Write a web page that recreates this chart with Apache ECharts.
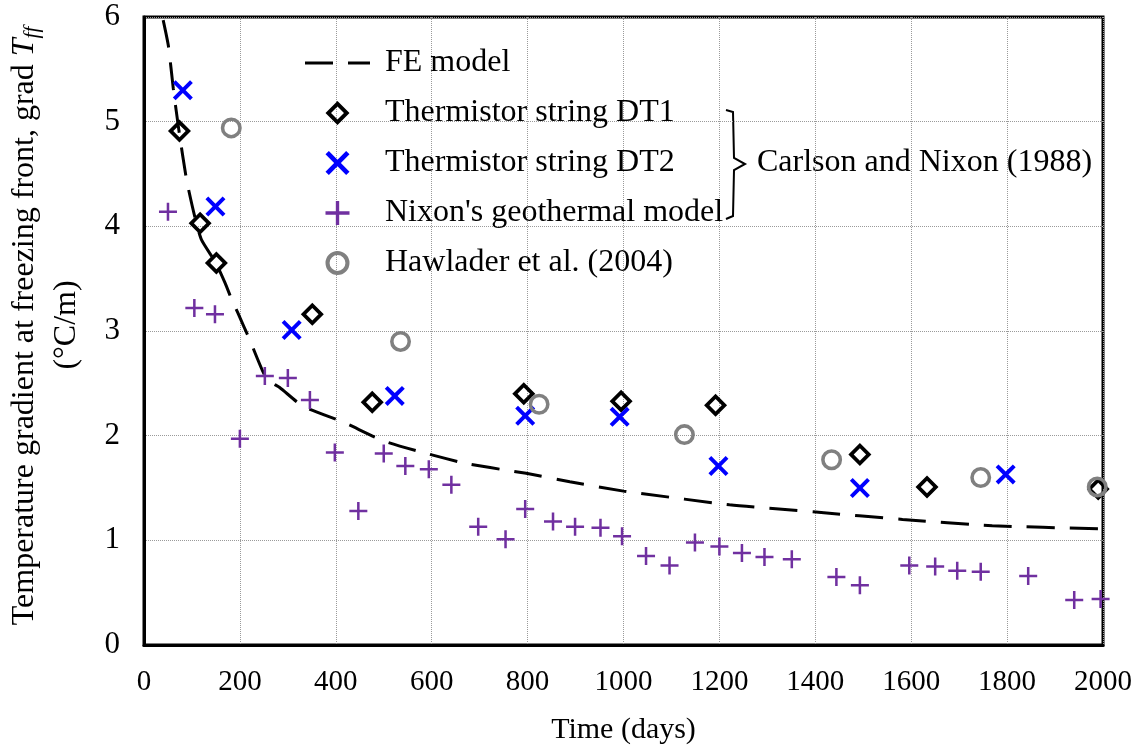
<!DOCTYPE html>
<html>
<head>
<meta charset="utf-8">
<script src="https://cdn.jsdelivr.net/npm/echarts@6/dist/echarts.min.js"></script>
<style>
html,body{margin:0;padding:0;background:#fff;}
#chart{width:1141px;height:750px;}
</style>
</head>
<body>
<div id="chart"></div>
<script>
// ---- Data ----
const xTicks = [0, 200, 400, 600, 800, 1000, 1200, 1400, 1600, 1800, 2000];
const yTicks = [0, 1, 2, 3, 4, 5, 6];

const feModel = [[40,5.97],[51,5.72],[61,5.32],[73,4.91],[89,4.44],[106,4.09],[120,3.87],[150,3.65],[169,3.46],[183,3.30],[196,3.17],[221,2.91],[256,2.54],[283,2.46],[332,2.28],[415,2.13],[500,1.95],[589,1.83],[676,1.73],[797,1.64],[888,1.56],[1000,1.47],[1033,1.45],[1221,1.34],[1401,1.27],[1582,1.20],[1769,1.14],[1990,1.11]];

const dt1 = [[74,4.91],[117,4.03],[151,3.65],[351,3.16],[476,2.32],[792,2.40],[995,2.33],[1192,2.29],[1493,1.82],[1633,1.51],[1990,1.49]];

const dt2 = [[81,5.30],[149,4.19],[308,3.01],[523,2.38],[795,2.19],[992,2.18],[1198,1.71],[1493,1.50],[1797,1.63]];

const nixon = [[50,4.14],[105,3.22],[148,3.16],[200,1.97],[252,2.57],[300,2.55],[346,2.34],[398,1.84],[447,1.28],[500,1.83],[545,1.71],[594,1.68],[641,1.53],[697,1.13],[754,1.01],[795,1.30],[853,1.18],[899,1.13],[952,1.12],[997,1.04],[1047,0.85],[1096,0.76],[1149,0.98],[1200,0.94],[1247,0.88],[1294,0.84],[1351,0.82],[1444,0.65],[1493,0.57],[1596,0.76],[1650,0.75],[1696,0.71],[1745,0.70],[1844,0.66],[1940,0.43],[1995,0.44]];

const hawlader = [[182,4.94],[535,2.90],[824,2.30],[1127,2.01],[1434,1.77],[1745,1.60],[1988,1.51]];

const seriesNames = ['FE model','Thermistor string DT1','Thermistor string DT2',"Nixon's geothermal model",'Hawlader et al. (2004)'];
const xTitle = 'Time (days)';
const yTitle1 = 'Temperature gradient at freezing front, grad ';
const yTitle2 = '(°C/m)';
const bracketLabel = 'Carlson and Nixon (1988)';

// ---- Chart ----
const FONT = '"Liberation Serif", "Times New Roman", serif';
const X_PATH = 'path://M0,14L14,0L50,36L86,0L100,14L64,50L100,86L86,100L50,64L14,100L0,86L36,50Z';
const PLUS_PATH = 'path://M43,0L57,0L57,43L100,43L100,57L57,57L57,100L43,100L43,57L0,57L0,43L43,43Z';
const DIAMOND_RING = 'path://M50,0L100,50L50,100L0,50ZM50,23L23,50L50,77L77,50Z';
const CIRCLE_RING = 'path://M50,0A50,50 0 1 1 49.99,0ZM50,17A33,33 0 1 0 50.01,17Z';
const DASH_PATH = 'path://M0,0h28v3h-28zM43,0h22v3h-22z';

const chart = echarts.init(document.getElementById('chart'), null, {renderer:'canvas'});
const option = {
  backgroundColor: '#fff',
  animation: false,
  grid: {left:144, right:38, top:17, bottom:104.5, show:true, borderColor:'#000', borderWidth:3, containLabel:false},
  xAxis: {
    type:'value', min:xTicks[0], max:xTicks[xTicks.length-1], interval:200,
    axisLine:{show:true, lineStyle:{color:'#000', width:3}},
    axisTick:{show:false},
    axisLabel:{color:'#000', fontFamily:FONT, fontSize:29, margin:23, formatter:(v)=>String(v)},
    splitLine:{show:true, lineStyle:{color:'#9a9a9a', type:'dotted', width:1}},
    name: xTitle, nameLocation:'middle', nameGap:70,
    nameTextStyle:{color:'#000', fontFamily:FONT, fontSize:30}
  },
  yAxis: {
    type:'value', min:yTicks[0], max:yTicks[yTicks.length-1], interval:1,
    axisLine:{show:true, lineStyle:{color:'#000', width:3}},
    axisTick:{show:false},
    axisLabel:{color:'#000', fontFamily:FONT, fontSize:31, margin:24, formatter:(v)=>String(v)},
    splitLine:{show:true, lineStyle:{color:'#9a9a9a', type:'dotted', width:1}}
  },
  legend: {
    show:true, orient:'vertical', left:305, top:47, padding:0,
    itemWidth:65, itemHeight:24, itemGap:18, symbolKeepAspect:true,
    textStyle:{color:'#000', fontFamily:FONT, fontSize:32, lineHeight:32, padding:[0,0,0,10]},
    data: [
      {name:seriesNames[0], icon:DASH_PATH, itemStyle:{color:'#000'}},
      {name:seriesNames[1]},
      {name:seriesNames[2]},
      {name:seriesNames[3]},
      {name:seriesNames[4]}
    ],
    selectedMode:false
  },
  series: [
    {name:seriesNames[0], type:'line', data:feModel, symbol:'none', smooth:0.2,
     lineStyle:{color:'#000', width:3, type:[28,15]}, itemStyle:{color:'#000'}, z:2},
    {name:seriesNames[1], type:'scatter', data:dt1, symbol:DIAMOND_RING, symbolSize:23, symbolKeepAspect:true,
     itemStyle:{color:'#000', opacity:1}, z:3},
    {name:seriesNames[2], type:'scatter', data:dt2, symbol:X_PATH, symbolSize:20, symbolKeepAspect:true,
     itemStyle:{color:'#0000ff', opacity:1}, z:3},
    {name:seriesNames[3], type:'scatter', data:nixon, symbol:PLUS_PATH, symbolSize:18, symbolKeepAspect:true,
     itemStyle:{color:'#7030a0', opacity:1}, z:3},
    {name:seriesNames[4], type:'scatter', data:hawlader, symbol:CIRCLE_RING, symbolSize:21, symbolKeepAspect:true,
     itemStyle:{color:'#808080', opacity:1}, z:3}
  ],
  graphic: [
    {type:'text', x:25, y:326, rotation:Math.PI/2,
     style:{text:'{a|' + yTitle1 + '}{i|T}{s|ff}', align:'center', verticalAlign:'middle', fill:'#000',
       rich:{
         a:{fontFamily:FONT, fontSize:32, lineHeight:36, color:'#000'},
         i:{fontFamily:FONT, fontSize:32, fontStyle:'italic', lineHeight:36, color:'#000'},
         s:{fontFamily:FONT, fontSize:21, fontStyle:'italic', lineHeight:22, verticalAlign:'bottom', color:'#000'}
       }}},
    {type:'text', x:67, y:325, rotation:Math.PI/2,
     style:{text:yTitle2, align:'center', verticalAlign:'middle', fill:'#000', font:'32px ' + FONT}},
    {type:'polyline', shape:{points:[[726,110],[733,112],[734,158],[745,164],[734,170],[733,216],[726,219]]},
     style:{stroke:'#000', lineWidth:2, fill:null}},
    {type:'text', x:757, y:163,
     style:{text:bracketLabel, align:'left', verticalAlign:'middle', fill:'#000', font:'32px ' + FONT}}
  ]
};
chart.setOption(option);
</script>
</body>
</html>
